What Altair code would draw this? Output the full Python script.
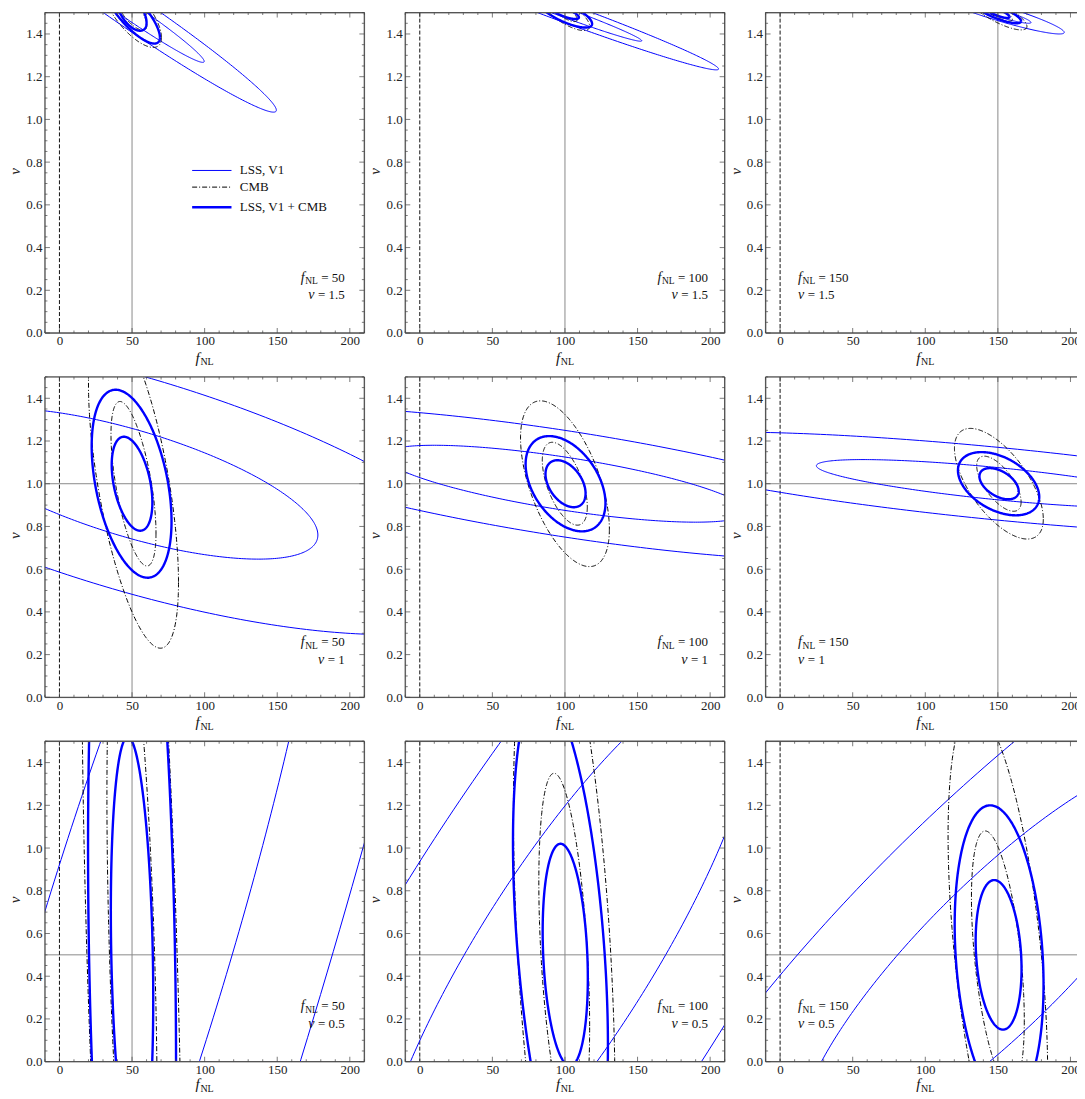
import altair as alt
import numpy as np
import pandas as pd

FONT = "Liberation Serif"
W, H = 320, 321
PX_PER_UNIT = W / 220.0

# ---------------- data ----------------
panel_fnl = [50, 100, 150, 50, 100, 150, 50, 100, 150]
panel_nu = [1.5, 1.5, 1.5, 1.0, 1.0, 1.0, 0.5, 0.5, 0.5]
panel_nu_label = ["1.5", "1.5", "1.5", "1", "1", "1", "0.5", "0.5", "0.5"]

# contour ellipses: centre (cx, cy), half extents (ax, ay), correlation rho
contour_panel = [0]*6 + [1]*6 + [2]*6 + [3]*6 + [4]*6 + [5]*6 + [6]*6 + [7]*6 + [8]*6
contour_probe = ["LSS", "LSS", "CMB", "CMB", "COMB", "COMB"] * 9
contour_level = [1, 2, 1, 2, 1, 2] * 9
contour_cx = [50, 50, 50, 50, 50, 50,
              100, 100, 100, 100, 100, 100,
              150, 150, 150, 150, 150, 150,
              50, 50, 51, 51, 50, 49.7,
              100, 100, 99.9, 100, 100.4, 100.4,
              150, 150, 150.7, 150.7, 150.8, 150.5,
              50, 50, 50, 50, 50, 50,
              100, 100, 99.5, 99.5, 100.2, 96.9,
              150, 150, 150, 150, 150.5, 150.85]
contour_cy = [1.5, 1.5, 1.5, 1.5, 1.5, 1.5,
              1.5, 1.5, 1.5, 1.5, 1.5, 1.5,
              1.5, 1.5, 1.5, 1.5, 1.5, 1.5,
              1.0, 1.0, 1.0, 1.0, 1.0, 1.0,
              1.0, 1.0, 1.0, 1.0, 1.0, 1.0,
              1.0, 1.0, 1.0, 1.0, 1.0, 1.0,
              0.5, 0.5, 0.5, 0.5, 0.5, 0.5,
              0.5, 0.5, 0.5, 0.5, 0.5, 0.55,
              0.5, 0.5, 0.48, 0.5, 0.5, 0.5]
contour_ax = [49.7, 99.4, 10.2, 20.3, 10, 19.2,
              52.9, 105.8, 8.5, 17, 9.6, 18.7,
              22.8, 45.7, 10, 20, 8, 16,
              128, 256, 15.5, 31, 14, 27.5,
              125, 250, 15.5, 30.6, 13.8, 27.5,
              125, 260, 15.3, 30.6, 13.5, 28,
              143, 286, 17.3, 34.6, 14.6, 30.3,
              131.3, 262.6, 17.5, 35, 15.55, 32.7,
              135.7, 271.4, 18.2, 34.3, 15.8, 30.6]
contour_ay = [0.233, 0.466, 0.082, 0.163, 0.085, 0.145,
              0.134, 0.268, 0.042, 0.084, 0.03, 0.07,
              0.05, 0.1, 0.04, 0.081, 0.025, 0.05,
              0.353, 0.706, 0.385, 0.77, 0.22, 0.44,
              0.18, 0.36, 0.194, 0.388, 0.11, 0.223,
              0.113, 0.242, 0.129, 0.259, 0.073, 0.148,
              2.9, 5.8, 1.69, 3.38, 1.02, 2.4,
              1.32, 2.64, 0.85, 1.7, 0.52, 1.19,
              0.918, 1.836, 0.6, 1.15, 0.35, 0.7]
contour_rho = [-0.98, -0.98, -0.72, -0.72, -0.55, -0.8,
               -0.984, -0.984, -0.76, -0.76, -0.75, -0.75,
               -0.926, -0.926, -0.8, -0.8, -0.8, -0.8,
               -0.68, -0.68, -0.6, -0.6, -0.4, -0.4,
               -0.72, -0.72, -0.56, -0.55, -0.41, -0.41,
               -0.744, -0.71, -0.66, -0.64, -0.47, -0.42,
               0.876, 0.876, -0.44, -0.44, -0.2, -0.21,
               0.849, 0.849, -0.4, -0.4, -0.21, -0.4,
               0.861, 0.861, -0.478, -0.487, -0.19, -0.2]

x_tick_labels = [0, 50, 100, 150, 200]
y_tick_labels = [0.0, 0.2, 0.4, 0.6, 0.8, 1.0, 1.2, 1.4]
legend_labels = ["LSS, V1", "CMB", "LSS, V1 + CMB"]

# ---------------- build tables ----------------
t = np.linspace(0, 2 * np.pi, 361)
rows = []
for i in range(len(contour_panel)):
    cx, cy, a, b, r = contour_cx[i], contour_cy[i], contour_ax[i], contour_ay[i], contour_rho[i]
    s = np.sqrt(1 - r * r)
    xs = cx + a * np.cos(t)
    ys = cy + b * (r * np.cos(t) - s * np.sin(t))
    for k in range(len(t)):
        rows.append((contour_panel[i], contour_probe[i], i, k, xs[k], ys[k]))
contours = pd.DataFrame(rows, columns=["panel", "probe", "cid", "k", "x", "y"])

x_minor = list(range(-10, 211, 10))
y_minor = [round(0.05 * i, 2) for i in range(31)]


def is_major_y(v):
    return any(abs(v - m) < 1e-9 for m in y_tick_labels)


EM = {" ": .25, "=": .564, ".": .25, "N": .722, "L": .611, "f": .32, "ν": .46}


def text_width(s, size):
    return sum(EM.get(c, .5) for c in s) * size


STYLE = {
    "LSS": dict(color="#0000ff", strokeWidth=1.0),
    "CMB": dict(color="#000000", strokeWidth=1.0, strokeDash=[5, 2, 1, 2]),
    "COMB": dict(color="#0000ff", strokeWidth=2.4),
}
FRAME = dict(color="#555555", strokeWidth=1.3)
TICK_MAJOR, TICK_MINOR = 5, 2.5


def panel(p):
    fnl, nu = panel_fnl[p], panel_nu[p]
    col, row = p % 3, p // 3
    width = W if col < 2 else 314          # last column runs off the page edge
    xmax = -10 + width / PX_PER_UNIT
    XS = alt.Scale(domain=[-10, xmax], nice=False, zero=False)
    YS = alt.Scale(domain=[0, 1.5], nice=False, zero=False)
    XAXIS = alt.Axis(values=x_tick_labels, title=None, tickSize=0, domain=False, grid=False,
                     labelFont=FONT, labelFontSize=13, labelPadding=2, labelColor="#222",
                     labelOverlap=False, labelFlush=False)
    YAXIS = alt.Axis(values=y_tick_labels, format=".1f", title="ν", tickSize=0, domain=False, grid=False,
                     labelFont=FONT, labelFontSize=13, labelPadding=3, labelColor="#222",
                     labelOverlap=False, labelFlush=False,
                     titleFont=FONT, titleFontSize=15, titleFontStyle="italic", titleFontWeight="normal",
                     titleColor="#222", titleX=-30.5, titleY=H / 2 - 2, titleBaseline="middle",
                     titleAngle=270)

    def X(f):
        return alt.X(f, type="quantitative", scale=XS, axis=XAXIS)

    def Y(f):
        return alt.Y(f, type="quantitative", scale=YS, axis=YAXIS)

    def pieces_layers(pieces, x, y, align, y_is_px=False):
        # pieces: (text, size, style, dy) or a float gap in px
        total = sum(pc if isinstance(pc, (int, float)) else text_width(pc[0], pc[1]) for pc in pieces)
        start = -total if align == "right" else (-total / 2 if align == "center" else 0)
        out, off = [], start
        for pc in pieces:
            if isinstance(pc, (int, float)):
                off += pc
                continue
            txt, size, style, dy = pc
            enc = {"x": X("x"), "y": alt.value(y) if y_is_px else Y("y")}
            out.append(alt.Chart(pd.DataFrame({"x": [x], "y": [0 if y_is_px else y]})).mark_text(
                text=txt, align="left", baseline="alphabetic", dx=off, dy=dy, font=FONT,
                fontSize=size, fontStyle=style, color="#111").encode(**enc))
            off += text_width(txt, size)
        return out

    layers = []
    layers.append(alt.Chart(pd.DataFrame({"x": [fnl]})).mark_rule(color="#8a8a8a", strokeWidth=1)
                  .encode(x=X("x")))
    layers.append(alt.Chart(pd.DataFrame({"y": [nu]})).mark_rule(color="#8a8a8a", strokeWidth=1)
                  .encode(y=Y("y")))
    layers.append(alt.Chart(pd.DataFrame({"x": [0]})).mark_rule(color="#111", strokeWidth=1, strokeDash=[4, 2])
                  .encode(x=X("x")))
    cd = contours[contours.panel == p]
    for probe in ["LSS", "CMB", "COMB"]:
        d = cd[cd.probe == probe]
        layers.append(alt.Chart(d).mark_line(clip=True, **STYLE[probe])
                      .encode(x=X("x"), y=Y("y"), detail="cid:N", order="k:Q"))

    # frame
    fx = [-10] + ([210] if col < 2 else [])
    layers.append(alt.Chart(pd.DataFrame({"x": fx})).mark_rule(**FRAME).encode(x=X("x")))
    layers.append(alt.Chart(pd.DataFrame({"y": [0.0, 1.5]})).mark_rule(**FRAME).encode(y=Y("y")))

    # frame ticks pointing inward (Mathematica style)
    for major in (True, False):
        L = TICK_MAJOR if major else TICK_MINOR
        xv = [v for v in x_minor if (v in x_tick_labels) == major and v <= xmax]
        yv = [v for v in y_minor if is_major_y(v) == major]
        for edge, off in ((0.0, -L / 2), (1.5, L / 2)):
            layers.append(alt.Chart(pd.DataFrame({"v": xv, "e": [edge] * len(xv)}))
                          .mark_tick(orient="vertical", color="#444", thickness=1, size=L, yOffset=off)
                          .encode(x=X("v"), y=Y("e")))
        sides = [(-10, L / 2)] + ([(210, -L / 2)] if col < 2 else [])
        for edge, off in sides:
            layers.append(alt.Chart(pd.DataFrame({"v": yv, "e": [edge] * len(yv)}))
                          .mark_tick(orient="horizontal", color="#444", thickness=1, size=L, xOffset=off)
                          .encode(x=X("e"), y=Y("v")))

    # annotation
    if col == 2:
        xa, al = 12.4, "left"
    elif col == 1:
        xa, al = 198.5, "right"
    else:
        xa, al = 196.5, "right"
    layers += pieces_layers([("f", 14, "italic", 0), ("NL", 9.5, "normal", 2.5), 3.3,
                             ("= %d" % fnl, 13, "normal", 0)], xa, 0.24, al)
    layers += pieces_layers([("ν", 14, "italic", 0), 3.3, ("= " + panel_nu_label[p], 13, "normal", 0)],
                            xa, 0.157, al)
    # x axis title
    title_y = H + 30 if row < 2 else H + 27.5
    layers += pieces_layers([("f", 15, "italic", 0), ("NL", 10, "normal", 2.5)], 100, title_y, "center",
                            y_is_px=True)
    if p == 0:
        ly = [0.761, 0.683, 0.589]
        for lab, probe, yy in zip(legend_labels, ["LSS", "CMB", "COMB"], ly):
            layers.append(alt.Chart(pd.DataFrame({"x": [91.4], "x2": [118.5], "y": [yy]}))
                          .mark_rule(**STYLE[probe]).encode(x=X("x"), x2="x2", y=Y("y")))
            layers.append(alt.Chart(pd.DataFrame({"x": [124.2], "y": [yy]}))
                          .mark_text(text=lab, align="left", baseline="middle", font=FONT, fontSize=13,
                                     color="#111").encode(x=X("x"), y=Y("y")))
    return alt.layer(*layers).properties(width=width, height=H)


chart = alt.concat(*[panel(p) for p in range(9)], columns=3,
                   spacing={"row": 44, "column": 41}, bounds="flush").properties(
    padding={"left": -1, "top": 1.6, "right": -4, "bottom": 0}
).configure_view(strokeWidth=0).configure(background="white")

chart.save("out.html", embed_options={"renderer": "svg", "actions": False})
